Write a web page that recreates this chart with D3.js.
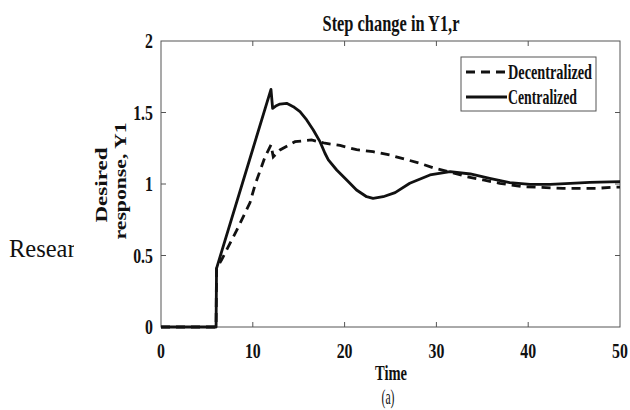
<!DOCTYPE html>
<html>
<head>
<meta charset="utf-8">
<script src="https://cdn.jsdelivr.net/npm/d3@7"></script>
<style>
  body { margin: 0; background: #fff; }
  svg { display: block; }
  text { font-family: "Liberation Serif", "Times New Roman", serif; fill: #111; }
</style>
</head>
<body>
<svg id="chart"></svg>
<script>
// data
const xTicks = [0, 10, 20, 30, 40, 50];
const yTicks = [0, 0.5, 1, 1.5, 2];
const yTickLabels = ["0", "0.5", "1", "1.5", "2"];
const seriesNames = ["Decentralized", "Centralized"];

const centralized = [
  [0, 0], [6, 0], [6.05, 0.41], [11.98, 1.662], [12.16, 1.529], [12.5, 1.545],
  [12.96, 1.559], [13.69, 1.564], [14.41, 1.541], [15.14, 1.506], [15.87, 1.448],
  [16.59, 1.378], [17.32, 1.296], [17.86, 1.215], [18.23, 1.168], [19.14, 1.098],
  [20.23, 1.028], [21.3, 0.958], [22.4, 0.911], [23.1, 0.9], [24.2, 0.911],
  [25.5, 0.94], [27.1, 1.005], [29.3, 1.063], [31.5, 1.086], [33.7, 1.07],
  [35.8, 1.04], [38, 1.009], [40.2, 0.998], [42.4, 0.998], [44.6, 1.005],
  [46.7, 1.012], [50, 1.016]
];

const decentralized = [
  [0, 0], [6, 0], [6.05, 0.41], [6.6, 0.47], [8.2, 0.67], [9.7, 0.87],
  [10.24, 0.993], [11.33, 1.19], [11.98, 1.273], [12.23, 1.19], [12.96, 1.238],
  [14.6, 1.296], [16.4, 1.308], [17.86, 1.285], [19.5, 1.27], [21.3, 1.24],
  [23.1, 1.226], [24.9, 1.203], [26.5, 1.175], [28.2, 1.145], [29.8, 1.11],
  [31.5, 1.084], [33.3, 1.051], [35.1, 1.028], [36.9, 1.005], [39.5, 0.981],
  [43.8, 0.97], [47.5, 0.97], [49.2, 0.977], [50, 0.978]
];

const W = 630, H = 410;
const margin = { top: 41, right: 10, bottom: 83, left: 161 };
const width = W - margin.left - margin.right;
const height = H - margin.top - margin.bottom;
const sx = 0.72; // the picture is squeezed sideways

const svg = d3.select("#chart").attr("width", W).attr("height", H);

// page text behind the figure, cut off by it
svg.append("clipPath").attr("id", "pageclip")
  .append("rect").attr("x", 0).attr("y", 0).attr("width", 74).attr("height", H);
svg.append("text")
  .attr("clip-path", "url(#pageclip)")
  .attr("x", 9).attr("y", 257)
  .style("font-size", "24.5px")
  .text("Research");

const g = svg.append("g").attr("transform", `translate(${margin.left},${margin.top})`);

const x = d3.scaleLinear().domain([0, 50]).range([0, width]);
const y = d3.scaleLinear().domain([0, 2]).range([height, 0]);

// squeezed text helper, len = width on screen along the text
function label(parent, txt, px, py, size, anchor, weight, rot, len) {
  const t = parent.append("text")
    .attr("transform", rot
      ? `translate(${px},${py}) rotate(-90) scale(1,${sx})`
      : `translate(${px},${py}) scale(${sx},1)`)
    .attr("text-anchor", anchor)
    .style("font-size", size + "px")
    .style("font-weight", weight)
    .text(txt);
  if (len) t.attr("textLength", rot ? len : len / sx).attr("lengthAdjust", "spacingAndGlyphs");
  return t;
}

// frame
g.append("rect")
  .attr("width", width).attr("height", height)
  .attr("fill", "none").attr("stroke", "#555").attr("stroke-width", 1);

// inward ticks on all four sides
const tk = 5;
g.selectAll(".xt").data(xTicks.slice(1, -1)).enter().append("path")
  .attr("d", d => `M${x(d)},${height}v${-tk}M${x(d)},0v${tk}`)
  .attr("stroke", "#555");
g.selectAll(".yt").data(yTicks.slice(1, -1)).enter().append("path")
  .attr("d", d => `M0,${y(d)}h${tk}M${width},${y(d)}h${-tk}`)
  .attr("stroke", "#555");

// tick labels
xTicks.forEach(d => label(g, d, x(d), height + 31, 22, "middle", "bold"));
yTicks.forEach((d, i) => label(g, yTickLabels[i], -8, y(d) + 7, 22, "end", "bold"));

// lines
const line = d3.line().x(d => x(d[0])).y(d => y(d[1]));

g.append("path").datum(centralized)
  .attr("fill", "none").attr("stroke", "#111").attr("stroke-width", 2.8)
  .attr("stroke-linejoin", "round")
  .attr("d", line);

g.append("path").datum(decentralized)
  .attr("fill", "none").attr("stroke", "#111").attr("stroke-width", 2.8)
  .attr("stroke-dasharray", "9,6")
  .attr("d", line);

// titles
label(svg, "Step change in Y1,r", 391, 31, 22.5, "middle", "bold", false, 137);
label(svg, "Time", 391, 380, 21, "middle", "bold", false, 32);
label(svg, "(a)", 388, 404, 21, "middle", "normal", false, 13);
label(svg, "Desired", 107, 185, 23, "middle", "bold", true, 75);
label(svg, "response, Y1", 126, 181, 23, "middle", "bold", true, 117);

// legend
const lg = svg.append("g").attr("transform", "translate(461,57)");
lg.append("rect").attr("width", 135).attr("height", 54)
  .attr("fill", "#fff").attr("stroke", "#555");
seriesNames.forEach((name, i) => {
  const ly = 15 + i * 25;
  lg.append("line").attr("x1", 5).attr("x2", 46).attr("y1", ly).attr("y2", ly)
    .attr("stroke", "#111").attr("stroke-width", 2.8)
    .attr("stroke-dasharray", i === 0 ? "9,6" : null);
  label(lg, name, 47, ly + 7, 20, "start", "bold", false, i === 0 ? 84 : 69);
});
</script>
</body>
</html>
